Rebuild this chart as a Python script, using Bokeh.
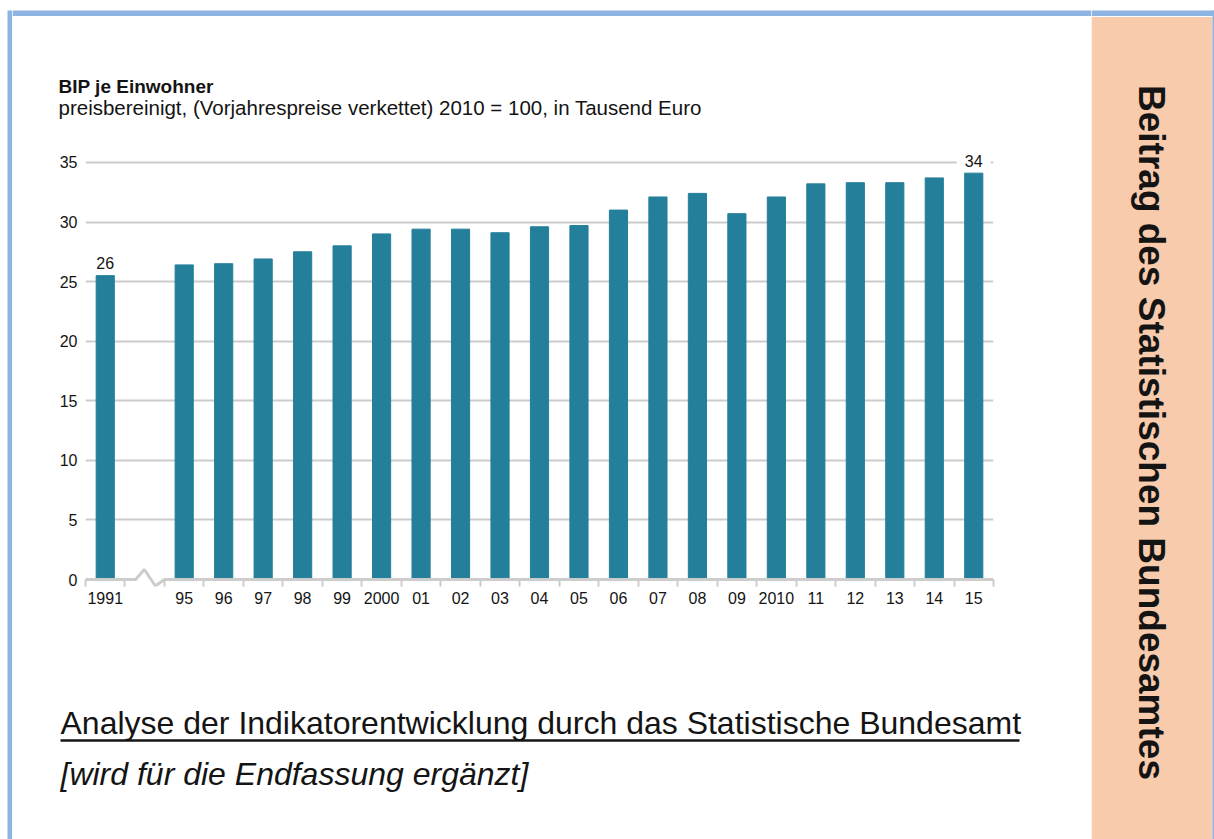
import math
from bokeh.plotting import figure
from bokeh.layouts import row, column
from bokeh.models import Range1d, FixedTicker, Label
from bokeh.core.properties import value
from bokeh.embed import file_html
from bokeh.resources import INLINE

# ---- data ----
years = ["1991", "95", "96", "97", "98", "99", "2000", "01", "02", "03", "04",
         "05", "06", "07", "08", "09", "2010", "11", "12", "13", "14", "15"]
values = [25.5, 26.4, 26.5, 26.9, 27.5, 28.0, 29.0, 29.4, 29.4, 29.1, 29.6,
          29.7, 31.0, 32.1, 32.4, 30.7, 32.1, 33.2, 33.3, 33.3, 33.7, 34.1]
y_ticks = [0, 5, 10, 15, 20, 25, 30, 35]
title_text = "BIP je Einwohner"
subtitle_text = "preisbereinigt, (Vorjahrespreise verkettet) 2010 = 100, in Tausend Euro"
analysis_text = "Analyse der Indikatorentwicklung durch das Statistische Bundesamt"
note_text = "[wird für die Endfassung ergänzt]"
side_text = "Beitrag des Statistischen Bundesamtes"

# ---- style / layout constants ----
W, H = 1214, 839
LEFT_W, SIDE_W = 12, 123
MID_W = W - LEFT_W - SIDE_W          # 1079
HEAD_H, CHART_H = 140, 480
FOOT_H = H - HEAD_H - CHART_H        # 219
FONT = "Liberation Sans"
TXT = "#141414"
BAR = "#247f9a"
GRID = "#cccccc"
BLUE = "#8db3e2"
PEACH = "#f7cbac"
MID = 0.3465                          # em distance from baseline to "middle"


def blank(w, h, x0, y0):
    """A figure whose frame is its whole canvas, in page-pixel coordinates."""
    f = figure(width=w, height=h, x_range=Range1d(x0, x0 + w),
               y_range=Range1d(y0 + h, y0), output_backend="svg",
               toolbar_location=None, min_border=0, title=None,
               x_axis_type=None, y_axis_type=None)
    f.frame_align = False
    f.grid.visible = False
    f.outline_line_color = None
    f.background_fill_color = "white"
    f.border_fill_color = "white"
    return f


def text(f, x, y_base, s, size, style="normal", align="left", angle=0.0, middle=False):
    y = y_base if middle else y_base - MID * size + 2
    f.text(x=[x], y=[y], text=[s], text_font=value(FONT), text_font_size=f"{size}px",
           text_font_style=style, text_color=TXT, text_align=align,
           text_baseline="middle", angle=angle)


# ---- left border strip ----
left = blank(LEFT_W, H, 0, 0)
left.quad(left=7, right=12, top=10, bottom=H, color=BLUE, line_color=None)

# ---- header ----
head = blank(MID_W, HEAD_H, LEFT_W, 0)
head.quad(left=LEFT_W, right=LEFT_W + MID_W, top=10, bottom=15.5, color=BLUE, line_color=None)
text(head, 58, 91, title_text, 19, "bold")
text(head, 58, 112, subtitle_text, 20.5)

# ---- chart ----
FL, FR, FT, F0 = 85, 993, 150, 579     # frame left/right/top, pixel of value 0
TICK = 7                               # boundary tick length (px)
PX_PER_UNIT = (F0 - FT) / 36.0
X0, X1 = -0.5, len(years) + 0.5
Y0, Y1 = -TICK / PX_PER_UNIT, 36.0

x_pos = [0] + list(range(2, 2 + len(years) - 1))   # one empty slot = axis break
bounds = [i - 0.5 for i in range(0, len(years) + 2)]

chart = figure(width=MID_W, height=CHART_H, x_range=Range1d(X0, X1), y_range=Range1d(Y0, Y1),
               output_backend="svg", toolbar_location=None, title=None,
               min_border_left=FL - LEFT_W, min_border_right=LEFT_W + MID_W - FR,
               min_border_top=FT - HEAD_H, min_border_bottom=HEAD_H + CHART_H - (F0 + TICK))
chart.frame_align = False
chart.outline_line_color = None
chart.background_fill_color = "white"
chart.border_fill_color = "white"

chart.xgrid.visible = False
chart.ygrid.ticker = FixedTicker(ticks=y_ticks[1:])
chart.ygrid.grid_line_color = GRID
chart.ygrid.grid_line_width = 2

chart.vbar(x=x_pos, top=values, bottom=0, width=0.46, color=BAR)

xa = chart.xaxis[0]
xa.ticker = FixedTicker(ticks=x_pos, minor_ticks=bounds)
xa.major_label_overrides = {x: y for x, y in zip(x_pos, years)}
xa.axis_line_color = None
xa.major_tick_line_color = None
xa.major_tick_out = 0
xa.major_tick_in = 0
xa.minor_tick_line_color = GRID
xa.minor_tick_line_width = 2
xa.minor_tick_out = 0
xa.minor_tick_in = TICK
xa.major_label_standoff = 5
xa.major_label_text_font = FONT
xa.major_label_text_font_size = "16px"
xa.major_label_text_color = TXT

ya = chart.yaxis[0]
ya.ticker = FixedTicker(ticks=y_ticks)
ya.axis_line_color = None
ya.major_tick_line_color = None
ya.minor_tick_line_color = None
ya.major_tick_out = 0
ya.major_tick_in = 0
ya.major_label_standoff = 8
ya.major_label_text_font = FONT
ya.major_label_text_font_size = "16px"
ya.major_label_text_color = TXT

# baseline of the chart with a zigzag break between 1991 and 1995
up, down = 10 / PX_PER_UNIT, -(TICK - 0.5) / PX_PER_UNIT
chart.line(x=[X0, 0.77, 0.99, 1.27, 1.5, X1], y=[0, 0, up, down, 0, 0],
           line_color=GRID, line_width=3)

# value labels on first and last bar (white gap in the grid line behind them)
LABEL_FS = 16
LABEL_OFF = 7 + MID * LABEL_FS
lab_idx = [0, len(values) - 1]
chart.rect(x=[x_pos[i] for i in lab_idx],
           y=[values[i] + LABEL_OFF / PX_PER_UNIT for i in lab_idx],
           width=0.86, height=12 / PX_PER_UNIT, color="white", line_color=None)
for i in lab_idx:
    chart.add_layout(Label(x=x_pos[i], y=values[i], text=str(round(values[i])),
                           y_offset=LABEL_OFF, text_align="center", text_baseline="middle",
                           text_font=FONT, text_font_size=f"{LABEL_FS}px", text_color=TXT))

# ---- footer ----
foot = blank(MID_W, FOOT_H, LEFT_W, HEAD_H + CHART_H)
text(foot, 60, 732, analysis_text, 32)
foot.line(x=[60, 1019], y=[740, 740], line_color=TXT, line_width=2.5)
text(foot, 60, 783, note_text, 32, "italic")

# ---- side box ----
side = blank(SIDE_W, H, LEFT_W + MID_W, 0)
side.quad(left=LEFT_W + MID_W, right=W, top=10, bottom=15.5, color=BLUE, line_color=None)
side.quad(left=LEFT_W + MID_W, right=1212, top=16.5, bottom=H, color=PEACH, line_color=None)
side.quad(left=1212, right=W, top=10, bottom=H, color=BLUE, line_color=None)
text(side, 1151, 432, side_text, 37, "bold", align="center", angle=-math.pi / 2, middle=True)

layout = row(left, column(head, chart, foot, spacing=0), side, spacing=0)
open("out.html", "w").write(file_html(layout, INLINE))
